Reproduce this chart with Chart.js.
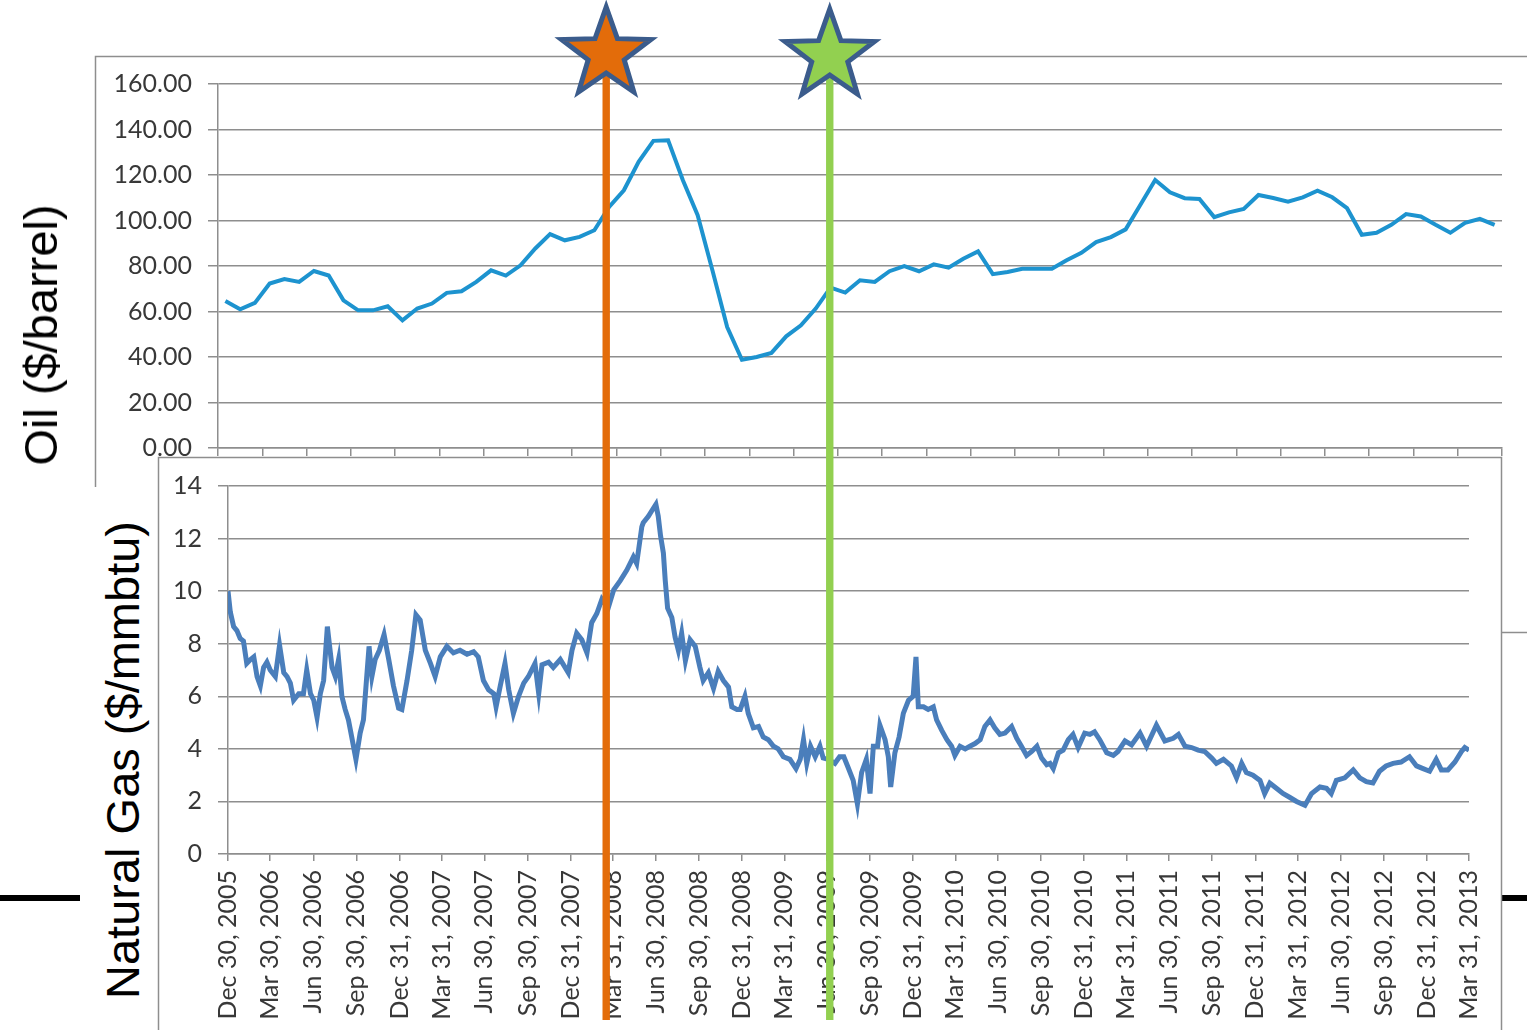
<!DOCTYPE html>
<html>
<head>
<meta charset="utf-8">
<title>Oil and natural gas prices</title>
<script src="https://cdn.jsdelivr.net/npm/chart.js@4.4.1/dist/chart.umd.min.js"></script>
<style>
  html, body { margin: 0; padding: 0; background: #fff; }
  #page { position: relative; width: 1527px; height: 1030px; overflow: hidden; }
  #page canvas { position: absolute; left: 0; top: 0; }
  .axis-title {
    position: absolute;
    font-family: "Liberation Sans", Arial, sans-serif;
    font-size: 47px;
    line-height: 54px;
    color: #000;
    white-space: nowrap;
    transform: translate(-50%, -50%) rotate(-90deg);
  }
  #gasBox { position: absolute; left: 80px; top: 487px; width: 78px; height: 543px; background: #fff; }
</style>
</head>
<body>
<div id="page">
  <canvas id="oilChart" width="1527" height="1030"></canvas>
  <div class="axis-title" style="left:41px; top:335px;">Oil ($/barrel)</div>
  <div id="gasBox"></div>
  <div class="axis-title" style="left:123px; top:760px;">Natural Gas ($/mmbtu)</div>
  <canvas id="gasChart" width="1527" height="1030"></canvas>
</div>

<script>
// Pétrole : moyenne mensuelle, janv. 2006 -> mars 2013 ($/baril)
const oilPrices = [
  64.6, 61.0, 63.8, 72.3, 74.3, 73.0, 77.8, 75.8, 64.9, 60.5,
  60.5, 62.3, 56.1, 61.3, 63.5, 68.2, 68.9, 73.0, 78.1, 75.8,
  80.3, 87.7, 94.0, 91.3, 92.8, 95.7, 106.0, 113.3, 125.8, 135.0,
  135.3, 117.7, 102.3, 78.1, 53.2, 38.8, 40.0, 41.8, 49.1, 53.9,
  61.3, 70.5, 68.3, 73.7, 73.0, 77.7, 80.0, 77.7, 80.7, 79.3,
  83.2, 86.4, 76.4, 77.4, 78.8, 78.8, 78.8, 82.5, 85.8, 90.5,
  92.7, 96.1, 106.9, 117.8, 112.4, 109.8, 109.5, 101.5, 103.6, 105.1,
  111.2, 109.9, 108.3, 110.2, 113.1, 110.2, 105.4, 93.7, 94.6, 98.1,
  102.8, 101.8, 98.1, 94.6, 99.0, 100.7, 98.1
];
const monthNames = ['Jan', 'Feb', 'Mar', 'Apr', 'May', 'Jun', 'Jul', 'Aug', 'Sep', 'Oct', 'Nov', 'Dec'];
const oilMonths = oilPrices.map((v, i) => monthNames[i % 12] + ' ' + (2006 + Math.floor(i / 12)));
const oilTicks = [0, 20, 40, 60, 80, 100, 120, 140, 160];

// Gaz naturel : jours depuis le 30 déc. 2005, prix en $/mmbtu
const gasDays = [
  0, 5, 12, 19, 26, 33, 40, 48, 55, 62, 69, 76, 83, 90, 101, 110, 119, 126, 133, 140,
  151, 161, 168, 176, 183, 190, 197, 204, 212, 222, 229, 236, 243, 250, 257, 264, 273, 282, 289, 296,
  301, 307, 314, 323, 333, 343, 353, 364, 371, 382, 392, 401, 410, 421, 432, 442, 453, 467, 481, 495,
  510, 524, 534, 545, 556, 567, 572, 581, 591, 599, 609, 620, 631, 641, 655, 663, 670, 684, 694, 709,
  726, 734, 744, 755, 766, 776, 787, 798, 812, 823, 837, 851, 865, 872, 883, 886, 897, 904, 913, 918,
  923, 929, 933, 938, 947, 954, 961, 968, 976, 986, 997, 1007, 1014, 1025, 1036, 1046, 1057, 1068, 1075, 1086,
  1093, 1103, 1110, 1121, 1132, 1142, 1153, 1164, 1174, 1185, 1199, 1212, 1221, 1228, 1235, 1243, 1253, 1263, 1270, 1281,
  1295, 1305, 1314, 1323, 1334, 1343, 1352, 1362, 1370, 1377, 1386, 1391, 1402, 1409, 1414, 1423, 1432, 1441, 1452, 1462,
  1468, 1473, 1484, 1494, 1505, 1512, 1523, 1534, 1544, 1551, 1562, 1573, 1583, 1594, 1605, 1615, 1626, 1636, 1647, 1658,
  1672, 1683, 1693, 1704, 1715, 1726, 1736, 1747, 1754, 1761, 1772, 1782, 1793, 1803, 1814, 1828, 1839, 1849, 1860, 1875,
  1889, 1899, 1914, 1928, 1946, 1960, 1981, 1999, 2017, 2028, 2042, 2056, 2070, 2084, 2099, 2109, 2124, 2141, 2152, 2163,
  2173, 2187, 2202, 2212, 2223, 2237, 2251, 2266, 2280, 2298, 2312, 2330, 2344, 2354, 2365, 2383, 2401, 2415, 2429, 2443,
  2457, 2471, 2486, 2503, 2521, 2536, 2550, 2564, 2578, 2589, 2603, 2618, 2632, 2639, 2648
];
const gasPrices = [
  10.0, 9.2, 8.65, 8.5, 8.2, 8.1, 7.25, 7.4, 7.5, 6.75, 6.4, 7.1, 7.3, 7.0, 6.75, 7.95, 6.9, 6.75, 6.5, 5.85,
  6.1, 6.1, 7.0, 6.1, 5.85, 5.2, 6.1, 6.6, 8.65, 7.1, 6.75, 7.4, 6.0, 5.5, 5.1, 4.45, 3.6, 4.6, 5.1, 6.75,
  7.9, 6.75, 7.4, 7.75, 8.35, 7.4, 6.4, 5.55, 5.5, 6.6, 7.75, 9.1, 8.9, 7.75, 7.25, 6.75, 7.5, 7.9, 7.65, 7.75,
  7.6, 7.7, 7.5, 6.6, 6.25, 6.1, 5.6, 6.4, 7.25, 6.25, 5.35, 6.0, 6.5, 6.75, 7.25, 6.1, 7.2, 7.3, 7.1, 7.4,
  6.9, 7.75, 8.4, 8.15, 7.65, 8.8, 9.15, 9.7, 9.4, 10.05, 10.4, 10.8, 11.3, 11.05, 12.45, 12.6, 12.85, 13.05, 13.3, 12.85,
  12.1, 11.45, 10.4, 9.35, 9.0, 8.25, 7.75, 8.4, 7.35, 8.15, 7.9, 7.1, 6.6, 6.9, 6.3, 6.95, 6.6, 6.35, 5.6, 5.5,
  5.5, 6.0, 5.35, 4.8, 4.85, 4.45, 4.35, 4.1, 4.0, 3.7, 3.6, 3.25, 3.6, 4.35, 3.45, 4.1, 3.7, 4.1, 3.65, 3.6,
  3.45, 3.7, 3.7, 3.3, 2.8, 1.9, 3.1, 3.6, 2.3, 4.1, 4.1, 4.9, 4.35, 3.7, 2.55, 3.85, 4.45, 5.35, 5.85, 6.0,
  7.5, 5.6, 5.6, 5.5, 5.6, 5.1, 4.7, 4.35, 4.1, 3.75, 4.1, 4.0, 4.1, 4.2, 4.35, 4.85, 5.1, 4.8, 4.55, 4.6,
  4.85, 4.4, 4.1, 3.75, 3.9, 4.1, 3.65, 3.4, 3.45, 3.25, 3.85, 3.95, 4.35, 4.55, 4.05, 4.6, 4.55, 4.65, 4.35, 3.85,
  3.75, 3.9, 4.3, 4.15, 4.6, 4.1, 4.9, 4.3, 4.4, 4.55, 4.1, 4.05, 3.95, 3.9, 3.65, 3.45, 3.6, 3.35, 2.9, 3.45,
  3.1, 3.0, 2.8, 2.3, 2.7, 2.5, 2.3, 2.15, 2.0, 1.85, 2.3, 2.55, 2.5, 2.3, 2.8, 2.9, 3.2, 2.9, 2.75, 2.7,
  3.15, 3.35, 3.45, 3.5, 3.7, 3.35, 3.25, 3.15, 3.6, 3.2, 3.2, 3.5, 3.9, 4.05, 3.95
];
const gasTicks = [0, 2, 4, 6, 8, 10, 12, 14];
const gasTickLabels = [
  'Dec 30, 2005', 'Mar 30, 2006', 'Jun 30, 2006', 'Sep 30, 2006', 'Dec 31, 2006', 'Mar 31, 2007',
  'Jun 30, 2007', 'Sep 30, 2007', 'Dec 31, 2007', 'Mar 31, 2008', 'Jun 30, 2008', 'Sep 30, 2008',
  'Dec 31, 2008', 'Mar 31, 2009', 'Jun 30, 2009', 'Sep 30, 2009', 'Dec 31, 2009', 'Mar 31, 2010',
  'Jun 30, 2010', 'Sep 30, 2010', 'Dec 31, 2010', 'Mar 31, 2011', 'Jun 30, 2011', 'Sep 30, 2011',
  'Dec 31, 2011', 'Mar 31, 2012', 'Jun 30, 2012', 'Sep 30, 2012', 'Dec 31, 2012', 'Mar 31, 2013'
];

// Les deux événements marqués par une étoile
const eventDates = ['Mar 16, 2008', 'Jul 6, 2009'];
const eventColors = ['#e36c0a', '#92d050'];

const gridColor = '#8e8e8e';
const tickFont = { family: 'Lato, "Open Sans", sans-serif', size: 25 };
const tickColor = '#383838';

// nombre de jours depuis le 30 déc. 2005
function dayOf(label) {
  return Math.round((Date.parse(label) - Date.parse(gasTickLabels[0])) / 86400000);
}

// cadre du graphique pétrole + trait noir de la diapo
const oilBackground = {
  id: 'oilBackground',
  beforeDraw(chart) {
    const ctx = chart.ctx;
    ctx.save();
    ctx.fillStyle = '#fff';
    ctx.fillRect(0, 0, chart.width, chart.height);
    ctx.fillStyle = '#000';
    ctx.fillRect(0, 895, chart.width, 6);
    ctx.fillStyle = '#fff';
    ctx.fillRect(95, 56, chart.width, 576);
    ctx.strokeStyle = gridColor;
    ctx.lineWidth = 1.5;
    ctx.strokeRect(95.5, 56.5, chart.width, 576);
    ctx.restore();
  }
};

// cadre blanc du graphique gaz
const gasBackground = {
  id: 'gasBackground',
  beforeDraw(chart) {
    const ctx = chart.ctx;
    ctx.save();
    ctx.fillStyle = '#fff';
    ctx.fillRect(158, 457, 1343, 600);
    ctx.strokeStyle = gridColor;
    ctx.lineWidth = 1.5;
    ctx.strokeRect(158.5, 457.5, 1343, 600);
    ctx.restore();
  }
};

function drawStar(ctx, cx, cy, outer, inner) {
  ctx.beginPath();
  for (let k = 0; k < 10; k++) {
    const r = k % 2 === 0 ? outer : inner;
    const a = -Math.PI / 2 + k * Math.PI / 5;
    const px = cx + r * Math.cos(a);
    const py = cy + r * Math.sin(a);
    if (k === 0) ctx.moveTo(px, py); else ctx.lineTo(px, py);
  }
  ctx.closePath();
}

// traits verticaux + étoiles, positionnés avec l'échelle x du gaz
const eventMarkers = {
  id: 'eventMarkers',
  afterDraw(chart) {
    const ctx = chart.ctx;
    const xScale = chart.scales.x;
    ctx.save();
    eventDates.forEach((d, i) => {
      const x = xScale.getPixelForValue(dayOf(d));
      const cy = i === 0 ? 54 : 56;
      ctx.fillStyle = eventColors[i];
      ctx.fillRect(x - 3.7, cy, 7.4, 1020 - cy);
      drawStar(ctx, x, cy, 47, 19);
      ctx.fill();
      ctx.lineWidth = 5;
      ctx.lineJoin = 'miter';
      ctx.strokeStyle = '#3b5c8c';
      ctx.stroke();
    });
    ctx.restore();
  }
};

const oilChart = new Chart(document.getElementById('oilChart'), {
  type: 'line',
  data: {
    datasets: [{
      label: 'Oil ($/barrel)',
      data: oilPrices.map((v, i) => ({ x: i + 0.5, y: v })),
      borderColor: '#1d93cf',
      borderWidth: 4,
      pointRadius: 0,
      tension: 0
    }]
  },
  options: {
    responsive: false,
    animation: false,
    layout: { padding: { left: 95, top: 84, right: 25, bottom: 562 } },
    plugins: {
      legend: { display: false },
      tooltip: { callbacks: { title: items => oilMonths[Math.floor(items[0].parsed.x)] } }
    },
    scales: {
      x: {
        type: 'linear',
        min: 0,
        max: oilPrices.length,
        afterBuildTicks: axis => {
          axis.ticks = oilMonths.filter((m, i) => i % 3 === 0).map((m, k) => ({ value: k * 3 }))
            .concat([{ value: oilPrices.length }]);
        },
        ticks: { callback: () => '' },
        grid: { drawOnChartArea: false, tickLength: 8, color: gridColor, lineWidth: 1.5 },
        border: { color: gridColor, width: 1.5 },
        afterFit: axis => { axis.height = 20; }
      },
      y: {
        min: 0,
        max: 160,
        afterBuildTicks: axis => { axis.ticks = oilTicks.map(v => ({ value: v })); },
        ticks: { callback: v => v.toFixed(2), font: tickFont, color: tickColor, padding: 16 },
        grid: { color: gridColor, lineWidth: 1.5, tickLength: 10 },
        border: { color: gridColor, width: 1.5 },
        afterFit: axis => { axis.width = 123; }
      }
    }
  },
  plugins: [oilBackground]
});

const gasChart = new Chart(document.getElementById('gasChart'), {
  type: 'line',
  data: {
    datasets: [{
      label: 'Natural Gas ($/mmbtu)',
      data: gasDays.map((d, i) => ({ x: d, y: gasPrices[i] })),
      borderColor: '#4a7ebb',
      borderWidth: 5,
      pointRadius: 0,
      tension: 0
    }]
  },
  options: {
    responsive: false,
    animation: false,
    layout: { padding: { left: 160, top: 486, right: 58, bottom: 0 } },
    plugins: { legend: { display: false } },
    scales: {
      x: {
        type: 'linear',
        min: 0,
        max: dayOf(gasTickLabels[gasTickLabels.length - 1]),
        afterBuildTicks: axis => { axis.ticks = gasTickLabels.map(l => ({ value: dayOf(l) })); },
        ticks: {
          autoSkip: false,
          minRotation: 90,
          maxRotation: 90,
          padding: 9,
          font: tickFont,
          color: tickColor,
          callback: (v, i) => gasTickLabels[i]
        },
        grid: { drawOnChartArea: false, tickLength: 7, color: gridColor, lineWidth: 1.5 },
        border: { color: gridColor, width: 1.5 },
        afterFit: axis => { axis.height = 176; }
      },
      y: {
        min: 0,
        max: 14,
        afterBuildTicks: axis => { axis.ticks = gasTicks.map(v => ({ value: v })); },
        ticks: { font: tickFont, color: tickColor, padding: 16 },
        grid: { color: gridColor, lineWidth: 1.5, tickLength: 10 },
        border: { color: gridColor, width: 1.5 },
        afterFit: axis => { axis.width = 68; }
      }
    }
  },
  plugins: [gasBackground, eventMarkers]
});
</script>
</body>
</html>
